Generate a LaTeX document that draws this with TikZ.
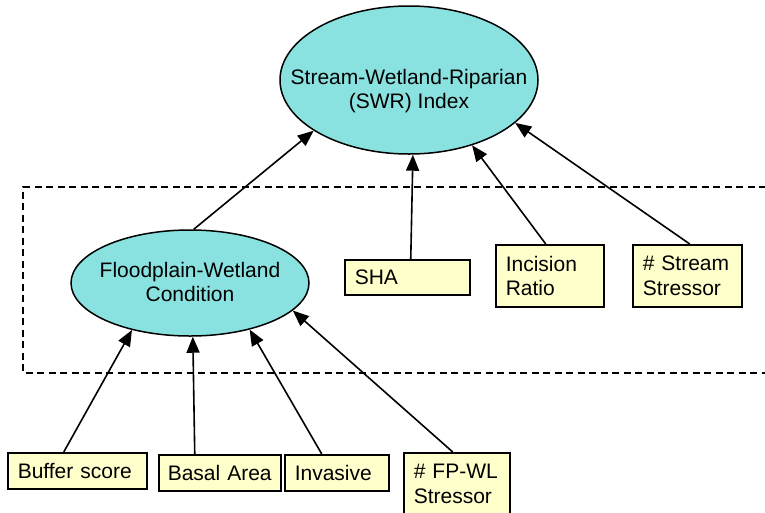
\documentclass[tikz,border=0pt]{standalone}
\usepackage{fontspec}
\setmainfont{Liberation Sans}
\usetikzlibrary{shapes.geometric,arrows.meta}
\definecolor{indexfill}{RGB}{138,226,224}
\definecolor{boxfill}{RGB}{255,255,204}

\begin{document}
\begin{tikzpicture}[x=1pt,y=-1pt,
    index/.style={draw,ellipse,fill=indexfill,line width=1.5pt,inner sep=0pt},
    idxtext/.style={align=center,font=\fontsize{21}{24.5}\selectfont},
    metric/.style={draw,fill=boxfill,line width=1.5pt,anchor=north west,inner xsep=10pt,inner ysep=0pt,align=left,font=\fontsize{21}{24.5}\selectfont},
    arr/.style={line width=1.6pt,-{Triangle[length=16pt,width=13pt]}}]
    \useasboundingbox (0,0) rectangle (765,512);

    \draw[line width=1.5pt,dash pattern=on 7pt off 4.5pt] (766,187) -- (23,187) -- (23,373) -- (766,373);

    \node[index,minimum width=258pt,minimum height=148pt] (swr) at (409,80) {};
    \node[idxtext] (swrtext) at (409,91) {Stream-Wetland-Riparian\\(SWR) Index};

    \node[index,minimum width=238pt,minimum height=106pt] (fwc) at (190,283) {};
    \node[idxtext] (fwctext) at (190,282) {Floodplain-Wetland\\Condition};

    \node[metric,text width=105pt,minimum height=35pt] (sha) at (344,259) {SHA};
    \node[metric,text width=88pt,minimum height=62pt] (incision) at (495,244) {Incision\\Ratio};
    \node[metric,text width=89pt,minimum height=62pt] (stream) at (632,244) {\# Stream\\Stressor};

    \node[metric,text width=119pt,minimum height=36pt] (buffer) at (7,452) {Buffer score};
    \node[metric,inner xsep=9pt,text width=104pt,minimum height=36pt] (basal) at (158,454) {Basal Area};
    \node[metric,text width=84pt,minimum height=36pt] (invasive) at (284,454) {Invasive};
    \node[metric,text width=86pt,minimum height=62pt] (fpwl) at (403,452) {\# FP-WL\\Stressor};

    \draw[arr] (fwc.86) -- (swr.208);
    \draw[arr] ([xshift=3.5pt]sha.north) -- (swr.273);
    \draw[arr] ([xshift=-4pt]incision.north) -- (swr.314);
    \draw[arr] ([xshift=2.5pt]stream.north) -- (swr.338);

    \draw[arr] ([xshift=-13.5pt]buffer.north) -- (fwc.219);
    \draw[arr] ([xshift=-25pt]basal.north) -- (fwc.273);
    \draw[arr] ([xshift=-15pt]invasive.north) -- (fwc.322);
    \draw[arr] ([xshift=-4pt]fpwl.north) -- (fwc.345);
  \end{tikzpicture}
\end{document}
